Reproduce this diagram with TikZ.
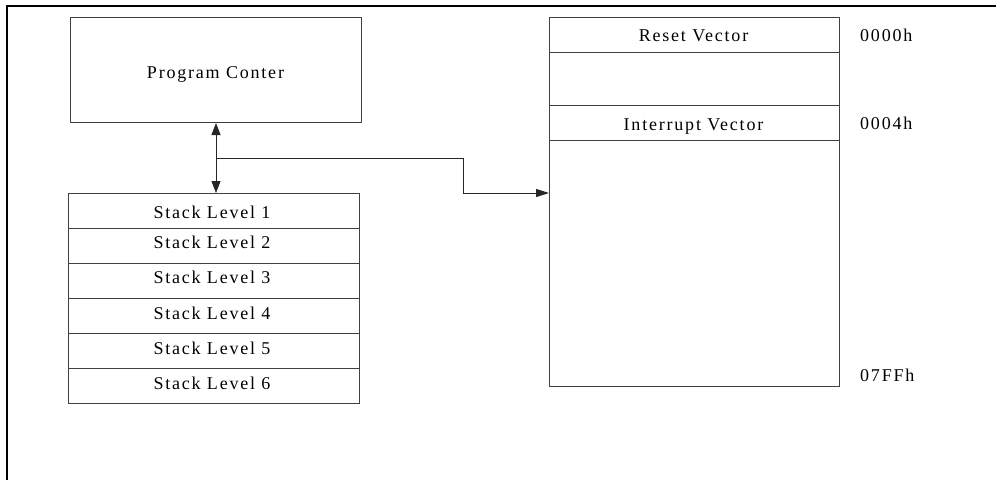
\documentclass[tikz,border=0pt]{standalone}
\usepackage{fontspec}
\setmainfont{Liberation Serif}[LetterSpace=10]
\usetikzlibrary{arrows.meta}
\begin{document}
\begin{tikzpicture}[x=1pt,y=-1pt,
  box/.style={draw=black!75,line width=1pt,inner sep=0pt,anchor=north west},
  lbl/.style={inner sep=0pt,anchor=base,font=\fontsize{18}{20}\selectfont},
  addr/.style={inner sep=0pt,anchor=base west,font=\fontsize{18}{20}\selectfont},
  conn/.style={draw=black!85,line width=1pt},
  tip/.style={-{Triangle[length=13pt,width=8pt]}}]
\useasboundingbox (0,0) rectangle (996,480);
% frame
\draw[line width=2pt] (7,480) -- (7,6) -- (996,6);
% program counter
\node[box,minimum width=291pt,minimum height=105pt] (pc) at (70,17) {};
\node[lbl] (pct) at (215.5,78) {Program Conter};
% stack
\foreach \i/\b in {1/218,2/248,3/283.5,4/319,5/354,6/389}{
  \node[box,minimum width=291pt,minimum height=35pt] (s\i) at (68,{193+35*(\i-1)}) {};
  \node[lbl] (s\i t) at (212,\b) {Stack Level \i};
}
% memory
\node[box,minimum width=290pt,minimum height=369pt] (mem) at (549,17) {};
\node[box,minimum width=290pt,minimum height=35pt] (rv) at (549,17) {};
\node[box,minimum width=290pt,minimum height=35pt] (iv) at (549,105) {};
\node[lbl] (rvt) at (693.5,41.5) {Reset Vector};
\node[lbl] (ivt) at (693.5,130.5) {Interrupt Vector};
\node[addr] (a0) at (860,41) {0000h};
\node[addr] (a4) at (860,129) {0004h};
\node[addr] (a7) at (860,381) {07FFh};
% connectors
\coordinate (j) at (216,158);
\draw[conn,{Triangle[length=12pt,width=9pt]}-{Triangle[length=12pt,width=9pt]}] (pc.south -| j) -- (s1.north -| j);
\coordinate (k) at (463,158);
\coordinate (m) at (549,193);
\draw[conn,tip] (j) -- (k) -- (k |- m) -- (m);
\end{tikzpicture}
\end{document}
